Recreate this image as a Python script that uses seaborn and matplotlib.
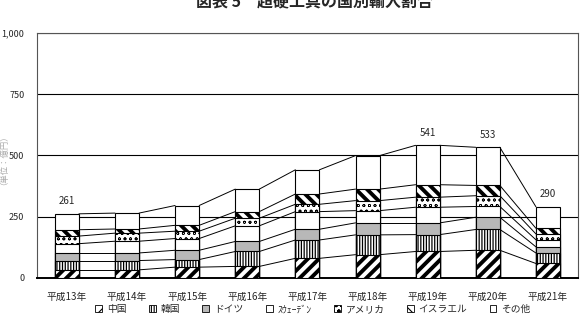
import numpy as np
import pandas as pd
import matplotlib
matplotlib.use('Agg')
import matplotlib.pyplot as plt
from matplotlib.patches import Patch
import seaborn as sns

sns.set_style('white')
plt.rcParams['font.family'] = ['Noto Sans CJK JP', 'DejaVu Sans']

# ── データ ───────────────────────────────────────
years = ['平成13年', '平成14年', '平成15年', '平成16年', '平成17年',
         '平成18年', '平成19年', '平成20年', '平成21年']
china   = [32, 32, 43, 46, 79, 94, 107, 112, 58]
korea   = [38, 38, 31, 61, 75, 81, 69, 85, 43]
germany = [31, 31, 38, 41, 44, 49, 48, 50, 25]
sweden  = [38, 48, 48, 64, 72, 50, 64, 44, 29]
usa     = [31, 33, 30, 31, 30, 41, 41, 44, 24]
israel  = [26, 17, 24, 27, 42, 47, 51, 42, 23]
other   = [65, 65, 81, 92, 99, 137, 161, 156, 88]
labeled = ['平成13年', '平成19年', '平成20年', '平成21年']   # 合計を表示する年

countries = ['中国', '韓国', 'ドイツ', 'ｽｳｪｰﾃﾞﾝ', 'アメリカ', 'イスラエル', 'その他']
series = [china, korea, germany, sweden, usa, israel, other]

# 見た目（塗り・ハッチ）
STYLE = {
    '中国':     dict(fc='white',   hatch='///',   hlw=2.8),
    '韓国':     dict(fc='white',   hatch='||||||', hlw=0.9),
    'ドイツ':   dict(fc='#b8b8b8', hatch=None,    hlw=1.0),
    'ｽｳｪｰﾃﾞﾝ':  dict(fc='white',   hatch=None,    hlw=1.0),
    'アメリカ': dict(fc='white',   hatch='ooo',   hlw=0.5),
    'イスラエル': dict(fc='white', hatch='\\\\\\', hlw=2.8),
    'その他':   dict(fc='white',   hatch=None,    hlw=1.0),
}

df = pd.DataFrame(dict(zip(countries, series)), index=years)
cum = df.cumsum(axis=1)

fig = plt.figure(figsize=(5.85, 3.24), dpi=100)
ax = fig.add_axes([0.063, 0.143, 0.925, 0.755])

W = 0.4
# 上の累積から順に重ねて描く（積み上げ棒）
for c in countries[::-1]:
    st = STYLE[c]
    with plt.rc_context({'hatch.linewidth': st['hlw'], 'hatch.color': 'black'}):
        sns.barplot(x=cum.index, y=cum[c].values, order=years, ax=ax,
                    color=st['fc'], saturation=1, width=W,
                    edgecolor='black', linewidth=0.8, zorder=3)
        for p in ax.patches[-len(years):]:
            p.set_facecolor(st['fc'])
            if st['hatch']:
                p.set_hatch(st['hatch'])
                if hasattr(p, 'set_hatch_linewidth'):
                    p.set_hatch_linewidth(st['hlw'])

# 区分線（棒と棒の間をつなぐ線）
xs = np.arange(len(years))
for c in countries:
    v = cum[c].values
    for i in range(len(years) - 1):
        ax.plot([xs[i] + W / 2, xs[i + 1] - W / 2], [v[i], v[i + 1]],
                color='black', lw=0.7, zorder=2)

# 合計ラベル
for i, y in enumerate(years):
    if y in labeled:
        ax.text(i, cum.loc[y, 'その他'] + 30, f'{cum.loc[y, "その他"]:.0f}',
                ha='center', va='bottom', fontsize=7)

ax.set_xlim(-0.5, len(years) - 0.5)
ax.set_ylim(0, 1000)
ax.set_yticks([0, 250, 500, 750, 1000])
ax.set_yticklabels(['0', '250', '500', '750', '1,000'])
ax.yaxis.grid(True, color='black', lw=0.8, zorder=0)
ax.set_axisbelow(True)
ax.set_xlabel('')
ax.set_ylabel('')
ax.tick_params(axis='y', length=0, labelsize=6.5, pad=9)
ax.set_xticks(xs)
ax.set_xticklabels(years, fontsize=7)
ax.tick_params(axis='x', length=0, pad=10)
# カテゴリ境界の小さい目盛り
ax.set_xticks(np.arange(0.5, len(years) - 0.5, 1), minor=True)
ax.tick_params(axis='x', which='minor', direction='in', length=3, width=0.8)
for s in ax.spines.values():
    s.set_color('#555555')
    s.set_linewidth(0.8)
ax.spines['bottom'].set_color('black')
ax.spines['bottom'].set_linewidth(1.4)

# 凡例
handles = []
for c in countries:
    st = STYLE[c]
    handles.append(Patch(facecolor=st['fc'], edgecolor='black', lw=0.6,
                         hatch=st['hatch'], label=c))
with plt.rc_context({'hatch.linewidth': 0.8}):
    fig.legend(handles=handles, loc='center', bbox_to_anchor=(0.535, 0.046),
               ncol=7, frameon=False, fontsize=7, handlelength=0.7,
               handleheight=0.7, handletextpad=0.5, columnspacing=2.3)

fig.text(0.537, 0.995, '図表 5　超硬工具の国別輸入割合', ha='center',
         va='center', fontsize=11.5, fontweight='bold')
fig.text(0.0, 0.52, '（単位：億円）', rotation=90, ha='center', va='center',
         fontsize=6, color='#aaaaaa')

fig.savefig('out.png', dpi=100)
